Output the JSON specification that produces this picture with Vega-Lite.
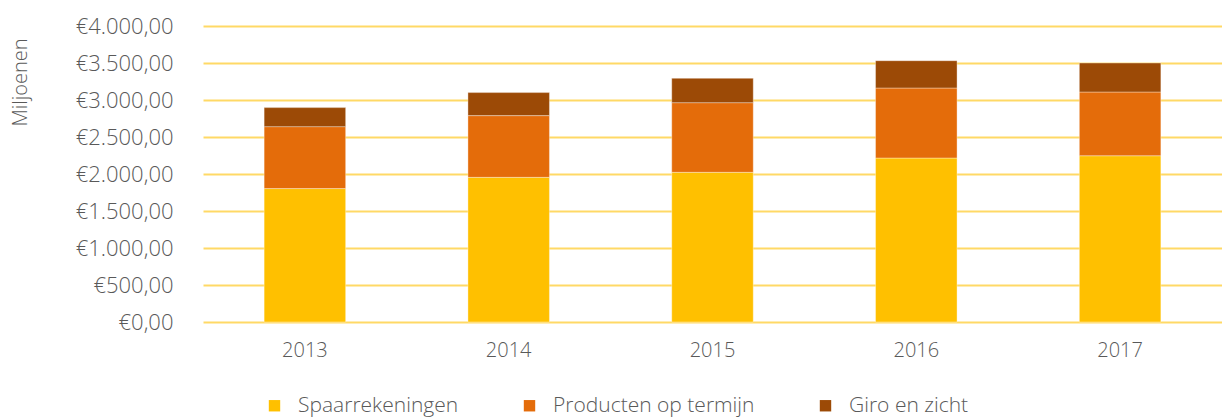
{
  "$schema": "https://vega.github.io/schema/vega-lite/v6.json",
  "width": 1019,
  "height": 296,
  "autosize": {"type": "none"},
  "padding": {"left": 203, "top": 26, "right": 0, "bottom": 95},
  "config": {
    "locale": {"number": {"decimal": ",", "thousands": ".", "grouping": [3], "currency": ["€", ""]}},
    "font": "Open Sans",
    "view": {"stroke": null},
    "axis": {"labelColor": "#595959", "titleColor": "#595959", "labelFont": "Open Sans", "titleFont": "Open Sans", "labelFontWeight": 300, "titleFontWeight": 300},
    "legend": {"labelColor": "#595959", "labelFont": "Open Sans", "labelFontWeight": 300}
  },
  "data": {
    "values": [
      {"jaar": "2013", "type": "Spaarrekeningen", "bedrag": 1803},
      {"jaar": "2013", "type": "Producten op termijn", "bedrag": 837},
      {"jaar": "2013", "type": "Giro en zicht", "bedrag": 257},
      {"jaar": "2014", "type": "Spaarrekeningen", "bedrag": 1955},
      {"jaar": "2014", "type": "Producten op termijn", "bedrag": 834},
      {"jaar": "2014", "type": "Giro en zicht", "bedrag": 311},
      {"jaar": "2015", "type": "Spaarrekeningen", "bedrag": 2023},
      {"jaar": "2015", "type": "Producten op termijn", "bedrag": 941},
      {"jaar": "2015", "type": "Giro en zicht", "bedrag": 329},
      {"jaar": "2016", "type": "Spaarrekeningen", "bedrag": 2216},
      {"jaar": "2016", "type": "Producten op termijn", "bedrag": 946},
      {"jaar": "2016", "type": "Giro en zicht", "bedrag": 369},
      {"jaar": "2017", "type": "Spaarrekeningen", "bedrag": 2247},
      {"jaar": "2017", "type": "Producten op termijn", "bedrag": 861},
      {"jaar": "2017", "type": "Giro en zicht", "bedrag": 392}
    ]
  },
  "mark": {"type": "bar", "stroke": "#ffffff", "strokeOpacity": 0.35, "strokeWidth": 1},
  "encoding": {
    "x": {
      "field": "jaar", "type": "nominal", "title": null,
      "scale": {"paddingInner": 0.6, "paddingOuter": 0.3},
      "axis": {"labelAngle": 0, "domain": false, "ticks": false, "labelFontSize": 20, "labelPadding": 18, "grid": false}
    },
    "y": {
      "field": "bedrag", "type": "quantitative", "stack": "zero",
      "scale": {"domain": [0, 4000]},
      "title": "Miljoenen",
      "axis": {
        "values": [0, 500, 1000, 1500, 2000, 2500, 3000, 3500, 4000],
        "format": "$,.2f",
        "domain": false, "ticks": false,
        "grid": true, "gridColor": "#FFD966", "gridWidth": 2,
        "labelFontSize": 22, "labelPadding": 30,
        "titleFontSize": 20, "titleAngle": -90,
        "titleX": -183, "titleY": 56, "titleAlign": "center", "titleBaseline": "middle"
      }
    },
    "color": {
      "field": "type", "type": "nominal",
      "sort": ["Spaarrekeningen", "Producten op termijn", "Giro en zicht"],
      "scale": {"domain": ["Spaarrekeningen", "Producten op termijn", "Giro en zicht"], "range": ["#FFC000", "#E46C0A", "#9C4A06"]},
      "legend": {
        "title": null, "orient": "none", "direction": "horizontal",
        "legendX": 61, "legendY": 369,
        "symbolType": "square", "symbolSize": 130, "symbolStrokeWidth": 0,
        "labelFontSize": 21, "labelOffset": 13, "columnPadding": 60, "labelLimit": 0
      }
    },
    "order": {"field": "type", "sort": "descending"}
  }
}
